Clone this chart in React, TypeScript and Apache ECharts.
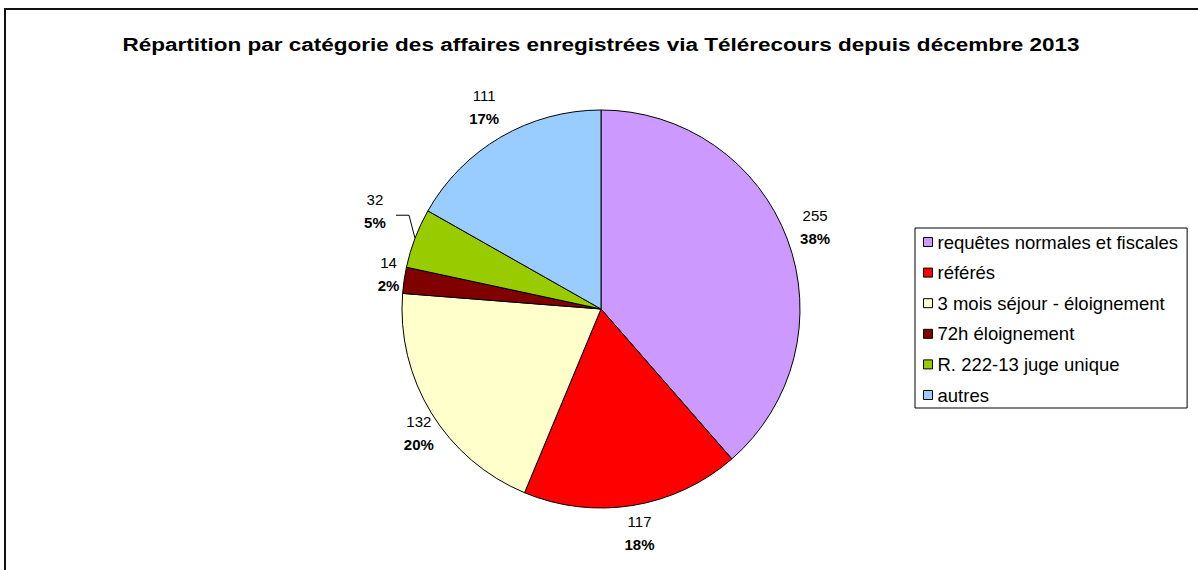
import React, { useEffect, useRef } from "react";
import * as echarts from "echarts";

const TITLE = "Répartition par catégorie des affaires enregistrées via Télérecours depuis décembre 2013";
const categories = [
  "requêtes normales et fiscales",
  "référés",
  "3 mois séjour - éloignement",
  "72h éloignement",
  "R. 222-13 juge unique",
  "autres",
];
const values = [255, 117, 132, 14, 32, 111];
const colors = ["#CC99FF", "#FF0000", "#FFFFCC", "#800000", "#99CC00", "#99CCFF"];

// label placement tuning (radial distance beyond the pie edge, nudges)
const labelLengths = [35, 28, 38, 46, 14, 35];
const labelNudgeX = [-5, 2, 20, 30, -10, 1];
const labelNudgeY = [0, 0, 0, 0, -22, 0];
// leader line shape for the small slice: elbow offset from the slice edge, then horizontal run
const leaderElbow = [-6, -23];
const leaderRun = 13;

const FONT = 'Arial, "Liberation Sans", sans-serif';

export default function App() {
  const ref = useRef<HTMLDivElement>(null);
  useEffect(() => {
    if (!ref.current) return;
    const chart = echarts.init(ref.current, undefined, { renderer: "svg" });
    const data = categories.map((name, i) => {
      const item: any = {
        name,
        value: values[i],
        itemStyle: { color: colors[i] },
        labelLine: { show: i === 4, length: labelLengths[i], length2: i === 4 ? 12 : 0 },
      };
      if (i === 4) item.label = { distanceToLabelLine: 5 };
      return item;
    });
    chart.setOption({
      animation: false,
      backgroundColor: "#fff",
      textStyle: { fontFamily: FONT },
      graphic: [
        {
          type: "rect",
          shape: { x: 5, y: 9, width: 1400, height: 800 },
          style: { fill: "none", stroke: "#111", lineWidth: 2 },
          silent: true,
        },
        {
          type: "text",
          x: 601,
          y: 44,
          scaleX: 1.185,
          silent: true,
          style: {
            text: TITLE,
            fill: "#000",
            font: 'bold 19px Arial, "Liberation Sans", sans-serif',
            textAlign: "center",
            textVerticalAlign: "middle",
          },
        },
      ],
      legend: {
        orient: "vertical",
        left: 915,
        top: 228,
        padding: [4, 9, 3, 8],
        borderColor: "#000",
        borderWidth: 1,
        itemWidth: 9,
        itemHeight: 9,
        itemGap: 10.6,
        icon: "rect",
        itemStyle: { borderColor: "#000", borderWidth: 1 },
        textStyle: { fontFamily: FONT, fontSize: 18.5, lineHeight: 20, color: "#000" },
        data: categories,
      },
      series: [
        {
          type: "pie",
          center: [601, 309],
          radius: 199,
          startAngle: 90,
          clockwise: true,
          percentPrecision: 0,
          avoidLabelOverlap: false,
          itemStyle: { borderColor: "#000", borderWidth: 1 },
          emphasis: { disabled: true },
          label: {
            show: true,
            position: "outside",
            distanceToLabelLine: 0,
            formatter: "{v|{c}}\n{p|{d}%}",
            color: "#000",
            rich: {
              v: { fontFamily: FONT, fontSize: 15, lineHeight: 23, color: "#000" },
              p: { fontFamily: FONT, fontSize: 15, lineHeight: 23, fontWeight: "bold", color: "#000" },
            },
          },
          labelLine: { show: false, length: 26, length2: 0, lineStyle: { color: "#000", width: 1 } },
          labelLayout: (params: any) => {
            const i = params.dataIndex;
            const res: any = { dx: labelNudgeX[i], dy: labelNudgeY[i], align: "center" };
            const pts = params.labelLinePoints;
            if (i === 4 && pts && pts.length) {
              const p0 = pts[0];
              const p1 = [p0[0] + leaderElbow[0], p0[1] + leaderElbow[1]];
              const p2 = [p1[0] - leaderRun, p1[1]];
              res.labelLinePoints = [p0, p1, p2];
            }
            return res;
          },
          data,
        },
      ],
    });
    return () => chart.dispose();
  }, []);
  return <div ref={ref} style={{ position: "fixed", left: 0, top: 0, width: 1198, height: 570 }} />;
}
